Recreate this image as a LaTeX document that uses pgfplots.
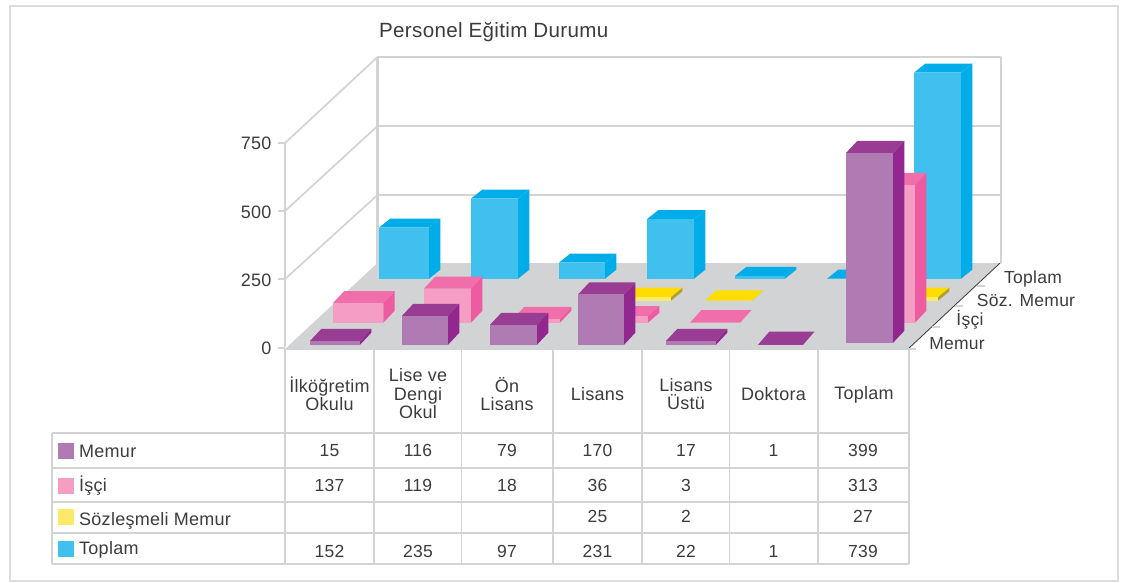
\documentclass[border=0pt]{standalone}
\usepackage{pgfplots}
\usepackage{fontspec}
\setmainfont[LetterSpace=1.5]{Liberation Sans}
\pgfplotsset{compat=1.18}
\definecolor{gl}{HTML}{D1D3D4}
\definecolor{tx}{HTML}{3C3C3E}
\definecolor{fr}{HTML}{DDDDDD}
\definecolor{purF}{HTML}{B07AB3}\definecolor{purT}{HTML}{993D94}\definecolor{purS}{HTML}{92278F}
\definecolor{pinF}{HTML}{F59DC3}\definecolor{pinT}{HTML}{F06EAA}\definecolor{pinS}{HTML}{EF5BA1}
\definecolor{yelF}{HTML}{FBE96A}\definecolor{yelT}{HTML}{FFDD00}\definecolor{yelS}{HTML}{AFA030}
\definecolor{bluF}{HTML}{40C0EE}\definecolor{bluT}{HTML}{00ADE8}\definecolor{bluS}{HTML}{00ADE8}
% left edge, right edge (px), base height, value, depth dy (all in value units), colour stem
\newcommand\boxbar[6]{%
  \pgfmathsetmacro\xa{#1}\pgfmathsetmacro\xb{#2}%
  \pgfmathsetmacro\yb{#3}\pgfmathsetmacro\yt{#3+#4}%
  \pgfmathsetmacro\xc{#1+11.3}\pgfmathsetmacro\xd{#2+11.3}%
  \pgfmathsetmacro\yc{\yt+#5}\pgfmathsetmacro\ye{\yb+#5}%
  \addplot[fill=#6S,draw=none] coordinates {(\xb,\yb)(\xd,\ye)(\xd,\yc)(\xb,\yt)} --cycle;
  \addplot[fill=#6T,draw=none] coordinates {(\xa,\yt)(\xb,\yt)(\xd,\yc)(\xc,\yc)} --cycle;
  \addplot[fill=#6F,draw=none] coordinates {(\xa,\yb)(\xb,\yb)(\xb,\yt)(\xa,\yt)} --cycle;
}
\newcommand\gline[1]{\addplot[gl,line width=1.7pt] coordinates {#1};}
\newcommand\tb[3]{\node[tx,font=\fontsize{17.5}{18.5}\selectfont,align=center,inner sep=0pt] at (axis cs:#1,#2) {#3};}
\newcommand\hb[3]{\node[tx,font=\fontsize{18}{18.5}\selectfont,align=center,inner sep=0pt] at (axis cs:#1,#2) {#3};}
\begin{document}
\begin{tikzpicture}
\useasboundingbox (0,0) rectangle (1123pt,582pt);
% page layer: pixel coordinates for walls, floor, table, text
\begin{axis}[at={(0,0)},anchor=south west,width=1123pt,height=582pt,scale only axis,
  xmin=0,xmax=1123,ymin=0,ymax=582,y dir=reverse,hide axis,clip=false]
\addplot[fr,line width=1.4pt] coordinates {(10,6)(1118,6)(1118,581)(10,581)} --cycle;
% floor
\addplot[fill=gl,draw=none] coordinates {(285,349)(377.5,263)(1001,263)(909,349)} --cycle;
% walls
\gline{(285,143)(285,347)}
\addplot[gl,line width=2.1pt] coordinates {(377.5,57)(377.5,264)};
\gline{(1001,57)(1001,263)}
\gline{(285,143)(377.5,57)(1001,57)}
\gline{(285,211)(377.5,126)(1001,126)}
\gline{(285,279)(377.5,195)(1001,195)}
% depth edge and ticks
\addplot[black!80,line width=0.7pt] coordinates {(908,349)(1000,263)};
\gline{(908,349)(916,349)}\gline{(932,327)(940,327)}\gline{(955,306)(963,306)}\gline{(977,286)(985,286)}
% value ticks
\gline{(278,143)(285,143)}\gline{(278,211)(285,211)}\gline{(278,279)(285,279)}\gline{(278,348)(285,348)}
% table
\gline{(285,349.5)(909,349.5)}
\gline{(52,433)(909,433)}\gline{(52,467.7)(909,467.7)}\gline{(52,501.7)(909,501.7)}\gline{(52,533)(909,533)}\gline{(52,564)(909,564)}
\gline{(52,433)(52,564)}
\gline{(285,349)(285,564)}\gline{(374,349)(374,564)}\gline{(461.5,349)(461.5,564)}\gline{(553,349)(553,564)}
\gline{(641.7,349)(641.7,564)}\gline{(729.5,349)(729.5,564)}\gline{(817.7,349)(817.7,564)}\gline{(909,349)(909,564)}
% swatches
\addplot[fill=purF,draw=none] coordinates {(58,443)(74,443)(74,459)(58,459)} --cycle;
\addplot[fill=pinF,draw=none] coordinates {(58,478)(74,478)(74,494)(58,494)} --cycle;
\addplot[fill=yelF,draw=none] coordinates {(58,509)(74,509)(74,525)(58,525)} --cycle;
\addplot[fill=bluF,draw=none] coordinates {(58,541)(74,541)(74,557)(58,557)} --cycle;
% title
\node[tx,anchor=west,font=\fontsize{20.6}{22}\selectfont,inner sep=0pt] at (axis cs:379,32.5) {Personel Eğitim Durumu};
% depth labels
\node[tx,font=\fontsize{17.5}{18}\selectfont,inner sep=0pt] at (axis cs:1033,278.5) {Toplam};
\node[tx,font=\fontsize{17.5}{18}\selectfont,inner sep=0pt] at (axis cs:1026,300) {Söz. Memur};
\node[tx,font=\fontsize{17.5}{18}\selectfont,inner sep=0pt] at (axis cs:970,320) {İşçi};
\node[tx,font=\fontsize{17.5}{18}\selectfont,inner sep=0pt] at (axis cs:957,344) {Memur};
% header
\hb{329.5}{394}{İlköğretim\\Okulu}
\hb{418}{394}{Lise ve\\Dengi\\Okul}
\hb{507}{394}{Ön\\Lisans}
\hb{597.5}{394}{Lisans}
\hb{686}{394}{Lisans\\Üstü}
\hb{773.5}{394}{Doktora}
\hb{864}{395}{Toplam}
% row names
\node[tx,anchor=west,font=\fontsize{18}{18}\selectfont,inner sep=0pt] at (axis cs:79,451.5) {Memur};
\node[tx,anchor=west,font=\fontsize{18}{18}\selectfont,inner sep=0pt] at (axis cs:79,486) {İşçi};
\node[tx,anchor=west,font=\fontsize{18}{18}\selectfont,inner sep=0pt] at (axis cs:79,520.5) {Sözleşmeli Memur};
\node[tx,anchor=west,font=\fontsize{18}{18}\selectfont,inner sep=0pt] at (axis cs:79,549.5) {Toplam};
% cells
\tb{329.5}{450.7}{15}\tb{418}{450.7}{116}\tb{507}{450.7}{79}\tb{597.5}{450.7}{170}\tb{686}{450.7}{17}\tb{773.5}{450.7}{1}\tb{863}{450.7}{399}
\tb{329.5}{485.7}{137}\tb{418}{485.7}{119}\tb{507}{485.7}{18}\tb{597.5}{485.7}{36}\tb{686}{485.7}{3}\tb{863}{485.7}{313}
\tb{597.5}{516.7}{25}\tb{686}{516.7}{2}\tb{863}{516.7}{27}
\tb{329.5}{551}{152}\tb{418}{551}{235}\tb{507}{551}{97}\tb{597.5}{551}{231}\tb{686}{551}{22}\tb{773.5}{551}{1}\tb{863}{551}{739}
\end{axis}
% chart layer: x in pixels, y in value units
\begin{axis}[at={(0,0)},anchor=south west,width=1123pt,height=582pt,scale only axis,
  xmin=0,xmax=1123,ymin=-858,ymax=1271.5,clip=false,
  axis y line*=left,axis x line=none,axis line style={draw=none},
  xtick=\empty,ytick={0,250,500,750},major tick length=0pt,
  yticklabel style={text=tx,font=\fontsize{18}{20}\selectfont,anchor=east,xshift=275pt,yshift=-1.2pt},
  /pgf/number format/assume math mode=true]
% Toplam row
\boxbar{379}{429}{251.7}{187}{33}{blu}
\boxbar{471}{518}{251.7}{293}{33}{blu}
\boxbar{559}{605}{251.7}{59}{33}{blu}
\boxbar{647}{694}{251.7}{218}{33}{blu}
\boxbar{735}{785}{251.7}{10}{33}{blu}
\boxbar{827}{872}{251.7}{0}{33}{blu}
\boxbar{914}{961}{251.7}{754}{33}{blu}
% Sozlesmeli row
\boxbar{625}{671}{171.2}{14}{34}{yel}
\boxbar{705}{752}{171.2}{0}{38}{yel}
\boxbar{891}{938}{171.2}{14}{34}{yel}
% Isci row
\boxbar{333}{383.3}{90.7}{72}{44}{pin}
\boxbar{424}{471}{90.7}{125}{44}{pin}
\boxbar{513}{560}{90.7}{14}{44}{pin}
\boxbar{601}{648}{90.7}{25}{36}{pin}
\boxbar{690}{740}{90.7}{0}{46}{pin}
\boxbar{868}{915}{90.7}{504}{44}{pin}
% Memur row
\boxbar{310}{360}{10}{14}{44}{pur}
\boxbar{402}{448}{10}{106}{44}{pur}
\boxbar{490}{537}{10}{73}{44}{pur}
\boxbar{578}{624}{10}{184}{44}{pur}
\boxbar{666}{716}{10}{14}{44}{pur}
\boxbar{758}{803}{10}{0}{48}{pur}
\boxbar{846}{893}{17}{695}{44}{pur}
\end{axis}
\end{tikzpicture}
\end{document}
